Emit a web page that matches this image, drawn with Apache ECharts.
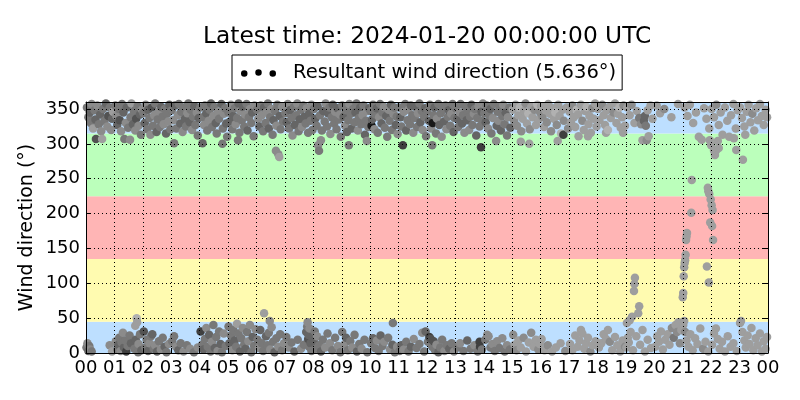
<!DOCTYPE html>
<html>
<head>
<meta charset="utf-8">
<script src="https://cdn.jsdelivr.net/npm/echarts@6/dist/echarts.min.js"></script>
<style>html,body{margin:0;padding:0;background:#fff}#chart{width:800px;height:400px}</style>
</head>
<body>
<div id="chart"></div>
<script>
// ---- data: [minute of day since 2024-01-19 00:00 UTC, direction (deg), speed-like shade value] ----
const obs00to06 = [
  [2,352,5],[5,338,5],[8,345,6],[10,330,5],[12,357,4],[15,322,3],[18,348,5],[20,335,6],[21,307,7],[24,355,4],[27,328,5],[30,342,6],[32,318,4],[34,307,3],[36,350,5],[39,333,5],[42,358,6],[45,325,4],[47,340,7],[50,352,5],[53,320,4],[55,336,6],[57,346,3],
  [1,8,5],[3,14,4],[5,3,6],[7,10,5],[9,5,4],[12,2,5],[50,11,4],[55,2,3],
  [62,355,5],[64,340,4],[66,327,6],[69,350,5],[71,334,7],[74,318,4],[76,357,5],[79,345,6],[81,307,5],[84,330,4],[86,352,6],[89,323,5],[93,306,4],[94,338,5],[96,358,3],[99,328,6],[101,347,5],[104,319,4],[106,336,7],[109,354,5],[111,326,4],[114,342,6],[116,313,5],[118,349,4],
  [63,17,4],[66,5,5],[68,12,6],[70,22,5],[73,3,4],[75,15,5],[78,29,4],[80,8,6],[83,18,5],[85,2,8],[88,10,5],[92,25,5],[95,14,6],[102,6,5],[104,39,3],[105,19,6],[107,50,2],[108,44,3],[110,1,5],[111,13,4],[114,27,5],[117,4,6],
  [121,344,5],[124,330,6],[126,356,4],[129,321,5],[131,349,6],[134,337,5],[136,313,4],[139,352,7],[141,326,5],[144,341,4],[146,358,5],[149,317,6],[151,335,5],[154,347,4],[156,324,5],[159,353,6],[161,339,5],[164,328,4],[166,350,5],[169,315,6],[171,343,5],[174,332,4],[176,356,6],[178,321,5],
  [122,31,7],[125,8,5],[128,19,5],[131,3,6],[134,14,4],[137,24,5],[140,27,6],[143,6,5],[146,11,4],[150,2,6],[154,17,5],[158,5,4],[162,22,5],[166,9,6],[170,1,5],[175,13,4],
  [181,348,5],[184,334,4],[186,301,5],[188,355,6],[191,322,5],[194,341,4],[196,357,5],[199,329,6],[201,346,5],[204,317,4],[206,352,5],[209,336,6],[211,325,5],[214,344,4],[216,358,5],[219,331,6],[221,349,5],[224,320,4],[226,339,5],[229,354,6],[231,327,5],[234,345,4],[236,312,5],[238,337,6],
  [182,17,5],[186,24,5],[190,9,4],[195,4,6],[200,14,5],[206,2,4],[213,11,5],[220,6,4],[228,1,5],[236,8,4],
  [241,352,5],[246,301,6],[247,338,5],[249,327,4],[251,355,5],[254,344,6],[256,319,5],[259,333,4],[261,349,5],[264,358,6],[266,324,5],[269,340,4],[271,353,5],[274,330,6],[276,315,5],[279,346,4],[281,336,5],[286,357,6],[288,300,5],[289,322,5],[291,343,4],[294,351,5],[296,329,6],[298,310,5],
  [242,31,8],[245,12,5],[248,5,6],[251,20,5],[254,36,4],[257,9,5],[260,26,6],[263,2,5],[266,16,4],[269,40,5],[272,7,6],[275,23,5],[278,3,4],[281,31,5],[284,13,6],[287,1,5],[291,28,4],[295,10,5],
  [301,345,5],[304,332,6],[306,356,4],[309,321,5],[311,340,6],[314,351,5],[316,328,4],[319,337,5],[321,305,5],[322,358,6],[324,316,5],[326,347,4],[329,334,5],[331,353,6],[334,325,5],[336,342,4],[339,357,5],[341,319,6],[344,338,5],[346,350,4],[349,330,5],[351,345,6],[354,311,5],[356,355,4],
  [301,38,5],[303,14,6],[306,25,5],[309,4,4],[311,33,5],[314,18,6],[317,9,5],[319,42,3],[322,28,5],[325,2,6],[328,21,5],[331,36,4],[334,12,5],[337,6,6],[340,30,5],[343,17,4],[346,40,4],[349,1,5],[352,23,6],[355,10,5],[358,34,4]
];
const obs06to12 = [
  [361,349,5],[364,336,4],[366,325,6],[369,355,5],[371,341,4],[374,318,5],[376,352,6],[379,330,5],[381,345,4],[384,358,5],[386,322,6],[389,338,5],[391,350,4],[394,313,5],[396,334,6],[399,347,5],[401,290,4],[402,326,4],[404,356,5],[406,285,4],[408,281,3],[409,340,6],[411,321,5],[414,353,4],[416,332,5],
  [362,19,5],[365,7,4],[368,33,6],[371,14,5],[374,3,5],[376,57,3],[380,24,6],[383,11,5],[386,29,5],[388,46,4],[389,5,4],[392,37,4],[395,16,5],[398,1,6],[402,21,5],[406,9,4],[410,27,5],[414,4,5],[418,14,4],
  [421,344,5],[424,331,6],[426,357,4],[429,322,5],[431,348,6],[434,337,5],[436,312,4],[439,353,5],[441,327,6],[444,341,5],[446,358,4],[449,318,5],[451,335,6],[454,349,5],[456,324,4],[459,355,5],[461,339,6],[464,329,5],[466,351,4],[469,316,5],[471,343,6],[474,333,5],[476,356,4],[478,320,5],
  [423,23,5],[428,8,4],[434,15,5],[440,2,6],[447,19,5],[454,6,4],[460,12,5],[465,30,6],[467,38,5],[468,44,4],[469,20,7],[470,26,6],[471,9,5],[472,35,4],[474,14,6],[476,3,5],[478,22,6],
  [481,350,5],[484,336,6],[487,326,5],[489,354,6],[490,298,4],[492,290,5],[494,341,5],[496,305,4],[498,319,5],[501,347,6],[504,332,5],[506,358,4],[509,325,5],[511,344,6],[514,352,5],[516,314,4],[519,338,5],[521,356,6],[524,329,5],[526,346,4],[529,321,5],[531,351,6],[534,335,5],[536,342,4],[538,310,5],
  [481,17,6],[483,31,5],[485,6,5],[488,24,4],[492,11,5],[496,2,6],[500,19,5],[505,8,4],[510,28,5],[515,14,4],[520,4,5],[526,22,5],[532,10,4],[537,1,5],
  [541,355,5],[544,339,6],[547,326,4],[549,348,5],[551,317,6],[554,334,5],[555,298,5],[556,357,4],[559,343,5],[561,322,6],[564,350,5],[567,331,5],[569,345,6],[571,358,5],[574,319,4],[576,337,5],[579,352,6],[581,328,5],[584,341,4],[586,355,5],[589,313,6],[591,333,5],[593,304,4],[594,347,4],[596,324,5],[598,351,6],
  [541,30,5],[545,12,4],[549,22,6],[553,4,5],[558,17,5],[562,8,4],[567,26,5],[572,2,6],[577,13,5],[582,6,4],[588,19,5],[594,1,5],
  [601,347,5],[603,326,10],[604,335,6],[606,356,5],[609,321,4],[611,342,5],[614,351,6],[616,316,5],[619,338,4],[621,357,5],[624,329,6],[626,345,5],[629,353,4],[631,323,5],[634,340,6],[636,310,5],[639,349,4],[641,333,5],[644,356,6],[646,320,5],[649,343,4],[651,352,5],[654,327,6],[656,339,5],[658,314,4],
  [602,14,5],[606,21,6],[610,7,5],[614,18,4],[618,3,5],[622,25,6],[626,10,5],[630,16,4],[638,22,5],[642,5,4],[647,12,6],[648,43,5],[652,1,5],[657,9,4],
  [661,352,5],[664,338,6],[666,325,5],[669,298,8],[671,346,4],[674,357,5],[676,319,6],[679,334,5],[681,349,4],[684,328,5],[686,355,6],[689,341,5],[691,316,4],[694,337,5],[696,353,6],[699,324,5],[701,344,4],[704,358,5],[706,331,6],[709,347,5],[711,320,4],[714,339,5],[716,351,6],[718,311,5],
  [662,3,5],[666,11,6],[671,5,4],[676,16,5],[681,2,5],[686,9,6],[692,20,4],[698,7,5],[704,13,5],[710,29,4],[714,2,5],[717,31,6]
];
const obs12to18 = [
  [721,346,5],[724,333,6],[726,356,5],[729,322,4],[731,298,5],[732,330,10],[734,341,5],[736,352,6],[739,315,5],[741,336,4],[744,357,5],[746,327,6],[749,344,5],[751,310,4],[754,350,5],[756,332,6],[759,355,5],[761,321,4],[764,339,5],[766,348,6],[769,326,5],[771,343,4],[774,357,5],[776,317,6],[778,337,5],
  [722,16,5],[725,23,8],[728,20,7],[731,9,5],[734,17,7],[737,4,5],[740,12,4],[744,1,6],[748,8,5],[752,19,5],[757,3,4],[762,11,5],[767,6,6],[772,14,5],[777,2,4],
  [781,351,5],[784,336,6],[786,324,5],[789,345,4],[791,357,5],[794,329,6],[796,341,5],[799,316,4],[801,353,5],[804,334,6],[806,347,5],[809,320,4],[811,339,5],[814,356,6],[816,327,5],[819,343,4],[821,350,5],[824,312,6],[826,337,5],[829,354,4],[831,325,5],[834,295,8],[835,346,6],[836,333,5],[838,358,4],
  [784,8,5],[790,14,4],[797,3,5],[805,18,6],[812,6,5],[820,11,4],[827,2,5],[831,16,8],[832,9,8],[836,5,5],
  [841,344,5],[844,331,6],[846,355,5],[849,322,4],[851,341,5],[854,350,6],[856,315,5],[859,337,4],[861,357,5],[866,304,4],[867,326,6],[869,346,5],[871,333,4],[874,353,5],[876,319,6],[879,340,5],[881,356,4],[884,328,5],[886,345,6],[889,312,5],[891,338,4],[894,352,5],[896,323,6],
  [843,19,5],[847,26,4],[850,24,4],[854,8,5],[858,13,4],[863,3,5],[868,17,4],[873,7,5],[879,21,4],[884,2,5],[889,11,4],[895,5,5],
  [901,349,3],[904,333,4],[907,356,3],[910,326,4],[913,341,3],[916,352,2],[918,303,3],[919,318,4],[922,336,3],[925,347,3],[928,358,4],[931,329,3],[934,344,2],[936,300,3],[937,321,4],[940,353,3],[943,338,3],[947,349,4],[950,327,3],[953,356,2],[956,335,3],[959,345,4],
  [902,26,4],[905,12,3],[909,4,4],[913,18,3],[918,8,3],[924,22,4],[929,2,3],[935,15,3],[940,29,4],[945,9,3],[950,19,3],[955,5,4],[958,13,3],
  [961,354,3],[964,339,4],[967,324,3],[970,348,3],[973,331,4],[976,357,3],[979,343,3],[982,318,4],[985,351,3],[988,336,3],[991,345,2],[994,327,4],[996,304,3],[997,356,3],[1000,340,3],[1003,315,2],[1006,349,3],[1008,313,8],[1009,333,4],[1015,352,3],[1018,322,4],
  [962,20,3],[968,4,3],[975,11,4],[984,2,3],[992,8,3],[1002,14,3],[1012,3,4],
  [1021,346,3],[1024,331,3],[1027,355,4],[1030,338,3],[1033,324,3],[1036,349,2],[1039,342,3],[1040,311,3],[1045,356,3],[1048,333,4],[1051,320,3],[1054,347,3],[1057,353,2],[1060,311,3],[1061,328,3],[1063,340,3],[1066,316,3],[1069,351,4],[1072,336,3],[1075,358,3],[1078,325,3],
  [1022,13,3],[1027,4,3],[1033,25,3],[1038,9,3],[1042,18,3],[1045,33,3],[1048,28,3],[1052,6,3],[1056,14,3],[1060,22,3],[1065,2,4],[1070,11,3],[1076,17,3]
];
const obs18to24 = [
  [1081,350,3],[1084,334,3],[1090,356,4],[1093,341,3],[1096,327,3],[1098,316,3],[1099,348,3],[1102,320,2],[1105,353,3],[1108,337,3],[1114,345,4],[1117,358,3],[1120,330,3],[1123,343,3],[1126,352,2],[1129,323,3],[1132,338,3],[1134,316,3],[1135,355,4],[1138,326,3],
  [1083,8,3],[1088,14,3],[1093,27,3],[1098,20,3],[1102,33,3],[1106,16,4],[1111,4,3],[1117,23,3],[1122,11,3],[1128,2,3],[1133,18,3],[1138,9,4],
  [1143,352,3],[1148,341,3],[1152,356,4],[1158,330,3],[1163,347,3],[1168,337,5],[1172,328,4],[1175,305,3],[1178,333,6],[1180,340,6],[1182,326,5],[1184,305,4],[1186,348,3],[1188,311,3],[1192,355,3],[1196,336,3],
  [1141,8,3],[1142,43,3],[1144,22,3],[1146,15,3],[1148,47,3],[1150,30,3],[1153,52,3],[1155,4,3],[1157,89,3],[1158,99,3],[1159,108,3],[1162,24,3],[1166,57,3],[1168,67,3],[1170,12,3],[1175,33,3],[1180,2,3],[1186,19,3],[1193,7,3],
  [1205,355,3],[1212,344,3],[1221,350,4],[1236,338,3],[1250,357,3],
  [1202,9,3],[1206,24,3],[1210,16,3],[1214,31,3],[1218,5,3],[1223,19,3],[1228,27,3],[1232,12,3],[1237,36,4],[1241,22,5],[1245,40,3],[1248,30,4],[1251,44,3],[1254,14,4],[1257,33,3],
  [1260,80,3],[1261,86,3],[1262,110,3],[1263,123,3],[1264,129,3],[1265,133,3],[1266,141,3],[1267,162,3],[1268,167,3],[1269,172,3],[1278,201,3],[1279,248,3],
  [1264,352,3],[1270,340,3],[1275,356,3],[1282,330,3],[1288,345,3],[1294,310,3],[1300,306,3],[1305,351,3],[1310,336,3],[1316,322,3],
  [1261,40,3],[1263,46,3],[1265,30,4],[1268,18,3],[1272,9,3],[1276,27,3],[1281,4,3],[1286,21,3],[1291,13,3],[1297,35,3],[1303,6,4],[1308,16,3],[1314,2,3],
  [1311,124,3],[1313,237,3],[1314,232,3],[1315,101,3],[1316,228,3],[1317,305,3],[1318,187,3],[1319,220,3],[1320,298,3],[1321,212,3],[1322,182,3],[1323,205,3],[1324,162,3],[1326,290,3],[1328,284,3],[1330,290,3],[1334,304,3],[1336,294,3],
  [1321,350,3],[1326,338,3],[1331,356,4],[1336,327,3],[1340,345,3],[1344,313,3],[1349,352,3],[1354,333,3],[1358,310,3],[1362,341,3],[1367,357,3],[1368,308,3],[1372,322,3],[1373,291,3],[1376,348,3],
  [1322,12,3],[1326,28,3],[1330,35,3],[1334,20,3],[1338,6,3],[1343,16,3],[1349,2,3],[1355,24,3],[1361,9,3],[1367,14,3],[1374,3,3],
  [1381,352,3],[1385,337,3],[1387,277,3],[1390,325,3],[1392,313,3],[1395,346,3],[1399,356,3],[1403,331,3],[1407,343,4],[1411,319,3],[1415,351,3],[1419,334,3],[1423,357,3],[1427,340,3],[1431,327,3],[1435,349,3],[1438,338,3],
  [1381,43,3],[1383,46,3],[1386,30,3],[1390,18,3],[1393,8,3],[1397,25,3],[1401,13,3],[1405,36,3],[1409,4,3],[1414,21,3],[1418,11,3],[1423,28,3],[1427,2,3],[1431,17,3],[1435,6,3],[1438,23,3]
];
// direction sector boundaries (deg)
const sectorLow  = [0, 45, 135, 225, 315];
const sectorHigh = [45, 135, 225, 315, 360];
const hourTicks = [0,1,2,3,4,5,6,7,8,9,10,11,12,13,14,15,16,17,18,19,20,21,22,23,24];
const titleText = 'Latest time: 2024-01-20 00:00:00 UTC';
const seriesName = 'Resultant wind direction (5.636°)';

// ---- chart ----
const sectorColors = ['#bddfff', '#fffbb0', '#ffb5b5', '#bbffbb', '#bddfff'];
const allObs = obs00to06.concat(obs06to12, obs12to18, obs18to24);
const scatterData = allObs.map(o => [o[0] / 60, o[1], o[2]]);
const bandData = sectorLow.map((lo, i) => [lo, sectorHigh[i]]);
const FONT = 'DejaVu Sans';
const pad2 = v => String(v % 24).padStart(2, '0');

const chart = echarts.init(document.getElementById('chart'), null, {renderer: 'canvas'});
const axisCommon = {
  axisLine: {show: true, onZero: false, lineStyle: {color: '#000', width: 1}},
  axisTick: {show: true, inside: true, length: 5, lineStyle: {color: '#000', width: 1}},
};
chart.setOption({
  animation: false,
  backgroundColor: '#fff',
  title: {
    text: titleText, left: 198, top: 20,
    textStyle: {fontFamily: FONT, fontSize: 23.3, fontWeight: 'normal', color: '#000'}
  },
  legend: {
    left: 232, top: 55,
    padding: [8, 6, 7, 9],
    borderColor: '#000', borderWidth: 1, borderRadius: 0,
    itemWidth: 35, itemHeight: 7.5,
    selectedMode: false,
    textStyle: {fontFamily: FONT, fontSize: 19.5, color: '#000', padding: [0, 0, 0, 12]},
    data: [{
      name: seriesName,
      icon: 'path://M0,4.25a3.25,3.25 0 1,0 6.5,0a3.25,3.25 0 1,0 -6.5,0M14.25,3.25a3.25,3.25 0 1,0 6.5,0a3.25,3.25 0 1,0 -6.5,0M28.5,4.25a3.25,3.25 0 1,0 6.5,0a3.25,3.25 0 1,0 -6.5,0',
      itemStyle: {color: '#000'}
    }]
  },
  grid: {left: 86, right: 32, top: 102, bottom: 47, containLabel: false},
  xAxis: [
    Object.assign({
      type: 'value', min: hourTicks[0], max: hourTicks[hourTicks.length - 1], interval: 1, position: 'bottom', z: 5,
      axisLabel: {color: '#000', fontFamily: FONT, fontSize: 18, margin: 6, formatter: v => pad2(v)},
      splitLine: {show: true, lineStyle: {color: '#000', width: 1, type: [1, 3]}}
    }, axisCommon),
    Object.assign({
      type: 'value', min: 0, max: 24, interval: 1, position: 'top', z: 5,
      axisLabel: {show: false}, splitLine: {show: false}
    }, axisCommon)
  ],
  yAxis: [
    Object.assign({
      type: 'value', min: 0, max: 360, interval: 50, position: 'left', z: 5,
      name: 'Wind direction (°)', nameLocation: 'middle', nameGap: 49, nameMoveOverlap: false,
      nameTextStyle: {fontFamily: FONT, fontSize: 19, color: '#000'},
      axisLabel: {color: '#000', fontFamily: FONT, fontSize: 18, margin: 6, showMaxLabel: false},
      splitLine: {show: true, lineStyle: {color: '#000', width: 1, type: [1, 3]}}
    }, axisCommon),
    Object.assign({
      type: 'value', min: 0, max: 360, interval: 50, position: 'right', z: 5,
      axisLabel: {show: false}, splitLine: {show: false}
    }, axisCommon)
  ],
  series: [
    {
      type: 'custom', name: 'sectors', z: 1, silent: true, clip: true,
      data: bandData,
      renderItem: (params, api) => {
        const lo = bandData[params.dataIndex][0], hi = bandData[params.dataIndex][1];
        const p0 = api.coord([0, hi]);
        const p1 = api.coord([24, lo]);
        return {type: 'rect', shape: {x: p0[0], y: p0[1], width: p1[0] - p0[0], height: p1[1] - p0[1]},
                style: {fill: sectorColors[params.dataIndex]}};
      }
    },
    {
      type: 'scatter', name: seriesName, z: 2, clip: true,
      symbol: 'circle', symbolSize: 8.5,
      data: scatterData,
      itemStyle: {
        opacity: 1,
        color: p => {
          const v = Math.round(Math.max(25, Math.min(185, 215 - p.value[2] * 19)));
          return 'rgb(' + v + ',' + v + ',' + v + ')';
        }
      }
    }
  ]
});
</script>
</body>
</html>
